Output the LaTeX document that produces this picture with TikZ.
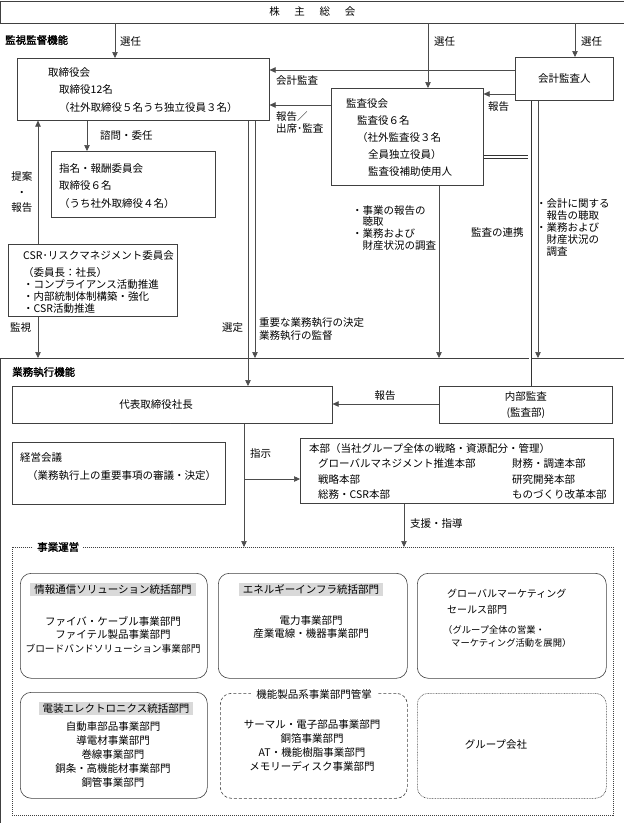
\documentclass[tikz,border=0pt]{standalone}
\usepackage{fontspec}
\setmainfont{Noto Sans CJK JP}
\newfontfamily\jpbold[FakeBold=2]{Noto Sans CJK JP}
\usetikzlibrary{arrows.meta}

\tikzset{
  box/.style={draw=black!75, line width=0.6pt, anchor=north west, inner sep=0pt,
    align=center, font=\fontsize{10.5}{16}\selectfont},
  rbox/.style={box, rounded corners=11pt},
  txt/.style={anchor=west, inner sep=0pt, align=left, font=\fontsize{10.5}{14}\selectfont},
  ctxt/.style={txt, anchor=center, align=center},
  head/.style={anchor=west, inner sep=0pt, font=\fontsize{10.5}{12}\jpbold},
  ghead/.style={anchor=center, fill=black!15, inner xsep=4pt, inner ysep=2pt,
    font=\fontsize{10.5}{12}\selectfont},
  arr/.style={draw=black!70, line width=0.6pt, -{Triangle[length=6pt,width=5.5pt]}},
  dbl/.style={draw=black!80, line width=0.6pt, double, double distance=2.2pt},
}

\begin{document}
\begin{tikzpicture}[x=1pt,y=-1pt]
      \useasboundingbox (0,0) rectangle (624,823);

      % 株主総会
      \node[box, minimum width=623pt, minimum height=22pt] (soukai) at (0.5,0.5)
        {株\hspace{1.4em}主\hspace{1.4em}総\hspace{1.4em}会};

      % 監視監督機能
      \node[head] (kanshi-h) at (5,40) {監視監督機能};

      \node[box, minimum width=252pt, minimum height=62pt] (torishimari) at (17,58) {};
      \node[txt, anchor=north west, font=\fontsize{10.5}{17.5}\selectfont] (torishimari-t) at (48,67)
        {取締役会\\\hspace*{11pt}取締役12名\\\hspace*{11pt}（社外取締役５名うち独立役員３名）};

      \node[box, minimum width=98pt, minimum height=43pt] (kaikei) at (515,57) {会計監査人};

      \node[box, minimum width=152pt, minimum height=97pt] (kansayaku) at (331,88) {};
      \node[txt, anchor=north west, font=\fontsize{10.5}{17}\selectfont] (kansayaku-t) at (346,98)
        {監査役会\\\hspace*{11pt}監査役６名\\\hspace*{11pt}（社外監査役３名\\
         \hspace*{22pt}全員独立役員）\\\hspace*{22pt}監査役補助使用人};

      \node[box, minimum width=164pt, minimum height=66pt] (shimei) at (51,151) {};
      \node[txt, anchor=north west, font=\fontsize{10.5}{17.5}\selectfont] (shimei-t) at (59,163)
        {指名・報酬委員会\\取締役６名\\（うち社外取締役４名）};

      \node[box, minimum width=169pt, minimum height=72pt] (csr) at (8,244) {};
      \node[txt, anchor=north west, font=\fontsize{10.5}{12}\selectfont] (csr-t) at (23,250)
        {CSR･リスクマネジメント委員会\\[5pt]（委員長：社長）\\・コンプライアンス活動推進\\
         ・内部統制体制構築・強化\\・CSR活動推進};

      % 業務執行機能
      \node[box, minimum width=623pt, minimum height=464.5pt] (gyomu) at (0.5,358) {};
      \node[head] (gyomu-h) at (12,372) {業務執行機能};

      \node[box, minimum width=320pt, minimum height=37pt] (daihyo) at (12,386) {};
      \node[ctxt] (daihyo-t) at (156,404.5) {代表取締役社長};

      \node[box, minimum width=173pt, minimum height=37pt] (naibu) at (439,386) {内部監査\\(監査部)};

      \node[box, minimum width=213pt, minimum height=62pt] (keiei) at (12,442) {};
      \node[txt, anchor=north west, font=\fontsize{10.5}{18}\selectfont] (keiei-t) at (20,452)
        {経営会議\\\hspace*{7pt}（業務執行上の重要事項の審議・決定）};

      \node[box, minimum width=313pt, minimum height=65pt] (honbu) at (300,438) {};
      \node[txt, anchor=north west, font=\fontsize{10.5}{15.5}\selectfont] (honbu-t) at (309,443)
        {本部（当社グループ全体の戦略・資源配分・管理）\\\hspace*{9pt}グローバルマネジメント推進本部\\
         \hspace*{9pt}戦略本部\\\hspace*{9pt}総務・CSR本部};
      \node[txt, anchor=north west, font=\fontsize{10.5}{15.5}\selectfont] (honbu-r) at (512,458.5)
        {財務・調達本部\\研究開発本部\\ものづくり改革本部};

      % 事業運営
      \node[box, dash pattern=on 1pt off 1pt, line width=0.8pt, minimum width=601pt, minimum height=268pt]
        (jigyo) at (12,547) {};
      \node[head, fill=white, inner xsep=4pt] (jigyo-h) at (33,547) {事業運営};

      \node[rbox, minimum width=187pt, minimum height=105pt] (johotsushin) at (20,573) {};
      \node[ghead] (johotsushin-h) at (113,589.5) {情報通信ソリューション統括部門};
      \node[ctxt, font=\fontsize{10.5}{13.5}\selectfont] (johotsushin-t) at (113,634.5)
        {ファイバ・ケーブル事業部門\\ファイテル製品事業部門\\
         {\fontsize{9.7}{13.5}\selectfont ブロードバンドソリューション事業部門}};

      \node[rbox, minimum width=189pt, minimum height=105pt] (energy) at (218,573) {};
      \node[ghead] (energy-h) at (311,589.5) {エネルギーインフラ統括部門};
      \node[ctxt, font=\fontsize{10.5}{13}\selectfont] (energy-t) at (311,627.5)
        {電力事業部門\\産業電線・機器事業部門};

      \node[rbox, minimum width=189pt, minimum height=105pt] (global) at (417,573) {};
      \node[txt, anchor=north west, font=\fontsize{10}{16}\selectfont] (global-t) at (447,589)
        {グローバルマーケティング\\セールス部門};
      \node[txt, anchor=north west, font=\fontsize{9.3}{12.5}\selectfont] (global-n) at (443,625.5)
        {（グループ全体の営業・\\\hspace*{8pt}マーケティング活動を展開）};

      \node[rbox, minimum width=187pt, minimum height=106pt] (denso) at (20,692) {};
      \node[ghead] (denso-h) at (116,708.5) {電装エレクトロニクス統括部門};
      \node[ctxt, font=\fontsize{10.5}{14}\selectfont] (denso-t) at (113,755)
        {自動車部品事業部門\\導電材事業部門\\巻線事業部門\\銅条・高機能材事業部門\\銅管事業部門};

      \node[rbox, dash pattern=on 3pt off 2pt, minimum width=187pt, minimum height=105pt] (kino) at (220,693) {};
      \node[ctxt, fill=white, inner xsep=5pt] (kino-h) at (314,694) {機能製品系事業部門管掌};
      \node[ctxt, font=\fontsize{10.5}{14}\selectfont] (kino-t) at (312,746)
        {サーマル・電子部品事業部門\\銅箔事業部門\\AT・機能樹脂事業部門\\メモリーディスク事業部門};

      \node[rbox, dash pattern=on 0.8pt off 0.8pt, minimum width=189pt, minimum height=105pt] (group) at (417,693) {};
      \node[ctxt] (group-t) at (496,745) {グループ会社};

      % connectors
      \foreach \xx/\dst in {115/torishimari, 428/kansayaku, 575/kaikei}
        \draw[arr] (soukai.south -| \xx,0) -- (\dst.north -| \xx,0);
      \node[txt] (senA) at (120,42) {選任};
      \node[txt] (senB) at (434,42) {選任};
      \node[txt] (senC) at (581,42) {選任};

      \draw[arr] (kaikei.west |- 0,70) -- (torishimari.east |- 0,70);
      \node[txt] (kaikeikansa) at (276,81) {会計監査};
      \draw[arr] (kaikei.west |- 0,94) -- (kansayaku.east |- 0,94);
      \node[txt] (hokokuA) at (488,107) {報告};
      \draw[arr] (kansayaku.west |- 0,105) -- (torishimari.east |- 0,105);
      \node[txt, anchor=north west, font=\fontsize{10.5}{12.5}\selectfont] (hokokuB) at (276,111) {報告／\\出席･監査};

      \draw[arr] (torishimari.south -| 87,0) -- (shimei.north -| 87,0);
      \node[txt] (shimon) at (100,136) {諮問・委任};

      \draw[arr] (csr.north -| 38,0) -- (torishimari.south -| 38,0);
      \node[ctxt, font=\fontsize{10.5}{15.5}\selectfont] (teian) at (22,192.5) {提案\\・\\報告};
      \draw[arr] (csr.south -| 38,0) -- (gyomu.north -| 38,0);
      \node[txt] (kanshi) at (10,328) {監視};

      \draw[arr] (torishimari.south -| 248,0) -- (daihyo.north -| 248,0);
      \node[txt] (sentei) at (222,328) {選定};
      \draw[arr] (torishimari.south -| 255,0) -- (gyomu.north -| 255,0);
      \node[txt, anchor=north west, font=\fontsize{10.5}{13.5}\selectfont] (juyo) at (259,317)
        {重要な業務執行の決定\\業務執行の監督};

      \draw[arr] (kansayaku.south -| 439,0) -- (gyomu.north -| 439,0);
      \node[txt, anchor=north west, font=\fontsize{10.5}{11.7}\selectfont] (jigyohokoku) at (352,205)
        {・事業の報告の\\\hspace*{1em}聴取\\・業務および\\\hspace*{1em}財産状況の調査};

      \coordinate (renkei) at (528.3,157);
      \draw[dbl] (kansayaku.east |- renkei) -- (renkei);
      \draw[dbl] (kaikei.south -| 530.3,0) -- (naibu.north -| 530.3,0);
      \node[txt] (renkei-t) at (471,233) {監査の連携};

      \draw[arr] (kaikei.south -| 538,0) -- (gyomu.north -| 538,0);
      \node[txt, anchor=north west, font=\fontsize{10.5}{12}\selectfont] (kaikeihokoku) at (536,198)
        {・会計に関する\\\hspace*{1em}報告の聴取\\・業務および\\\hspace*{1em}財産状況の\\\hspace*{1em}調査};

      \draw[arr] (naibu.west |- 0,404) -- (daihyo.east |- 0,404);
      \node[ctxt] (hokokuC) at (385,396) {報告};

      \draw[dbl] (daihyo.south -| 169.5,0) -- (keiei.north -| 169.5,0);

      \draw[arr] (daihyo.south -| 244,0) -- (jigyo.north -| 244,0);
      \draw[arr] (daihyo.south -| 244,0) |- (honbu.west |- 0,479);
      \node[txt] (shiji) at (250,454) {指示};

      \draw[arr] (honbu.south -| 404,0) -- (jigyo.north -| 404,0);
      \node[txt] (shien) at (410,524) {支援・指導};
\end{tikzpicture}
\end{document}
